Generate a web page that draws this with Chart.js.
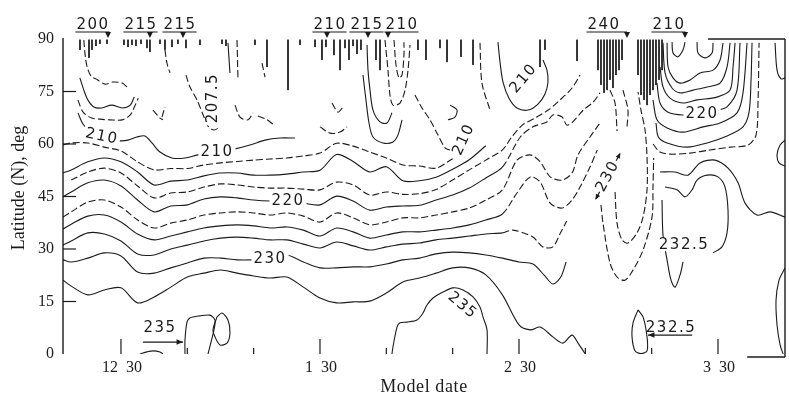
<!DOCTYPE html>
<html>
<head>
<meta charset="utf-8">
<script src="https://cdn.jsdelivr.net/npm/chart.js@4.4.1/dist/chart.umd.min.js"></script>
<style>
  html, body { margin: 0; padding: 0; background: #fff; }
  #wrap { width: 789px; height: 405px; position: relative; }
</style>
</head>
<body>
<div id="wrap"><canvas id="c"></canvas></div>
<script>
// Model date in days: 30 = "12 30", 60 = "1 30", 90 = "2 30", 120 = "3 30"
const dayMin = 21.26, dayMax = 130.1;
const latTicks = [0, 15, 30, 45, 60, 75, 90];
const dateTicks = [30, 40, 50, 60, 70, 80, 90, 100, 110, 120];
const dateLabels = { 30: '12  30', 60: '1  30', 90: '2  30', 120: '3  30' };

// Mid-latitude temperature contours (K), latitude read at common model days
const bandDays = [21.26,22.5,25,27.5,30,32.5,35,37.5,40,42.5,45,47.5,50,52.5,55,57.5,60,62.5,65,67.5,70,72.5,75,77.5,80,82.5,85,87.5,90];
const lat232_5 = [21.1,19.4,16.9,18.3,18.9,14.6,16.3,19.1,22.0,23.1,24.0,23.1,22.3,21.7,22.0,19.1,16.0,14.6,14.9,15.1,17.4,20.6,21.7,23.1,24.6,24.6,22.6,16.9,8.3];
const tail232_5 = [[91.7,6.9],[93.2,7.7],[95.1,4.9],[96.6,3.1],[98.0,5.4],[98.9,3.1],[100.0,0]];
const lat230 = [26.9,26.3,27.4,28.9,28.0,23.4,23.1,24.6,26.0,27.4,27.4,26.9,26.9,27.1,28.3,26.3,24.6,24.6,24.9,24.9,25.7,26.9,27.4,28.6,29.1,28.9,28.3,27.4,26.3];
const tail230 = [[92.1,25.7],[93.9,22.3],[95.1,20.0],[96.3,22.0],[97.1,26.3]];
const lat227_5 = [31.1,32.3,34.6,34.3,32.3,28.6,28.3,30.0,31.1,32.3,33.1,33.4,33.1,32.6,32.6,31.4,30.3,32.0,30.9,29.7,30.6,31.4,31.7,32.6,33.1,33.7,34.3,34.6];
const tail227_5 = [[89.1,35.4],[92.1,33.4],[93.6,30.6],[95.1,30.6],[96.2,34.4],[97.2,38.0]];
const lat225 = [35.7,37.1,39.4,39.7,37.7,34.3,32.6,33.7,34.9,36.0,36.6,36.9,36.6,36.0,36.3,35.4,33.7,36.0,34.9,33.1,34.0,34.9,34.9,35.4,36.0,36.9,38.3,40.0];
const tail225 = [[89.7,46.0],[91.7,50.6],[93.2,49.1],[94.7,43.1],[96.5,41.7],[98.0,44.0],[99.2,47.7],[100.7,53.4],[101.8,58.3]];
const lat222_5 = [39.1,40.6,43.4,44.0,42.0,38.3,36.0,37.4,38.3,39.7,40.3,40.6,40.3,39.7,40.3,39.4,37.7,40.3,38.9,36.9,37.7,38.9,38.9,39.7,40.6,41.7,44.0,46.9];
const tail222_5 = [[89.7,55.4],[91.7,56.9],[93.2,54.9],[94.7,50.6],[96.5,49.7],[98.0,51.7],[98.9,56.9],[100.7,62.0],[102.2,66.0]];
const lat220 = [44.9,46.3,48.9,49.7,48.0,44.0,40.6,42.3,42.6,44.3,44.9,44.6,44.0,43.7,43.7,43.1,42.6,45.1,43.7,41.1,42.0,42.3,42.5,44.0,45.4,47.4,50.3,53.4];
const tail220 = [[90.2,62.0],[92.1,64.9],[94.2,66.3],[95.1,68.3],[96.5,67.7],[97.2,65.4],[98.1,66.3],[99.7,69.7],[101.2,72.0],[102.2,74.6]];
const lat217_5 = [49.7,52.0,53.1,51.7,48.0,44.6,46.0,46.3,47.7,48.6,48.3,47.7,47.4,47.4,47.1,46.9,49.1,48.3,45.4,46.3,45.6,45.8,47.0,49.7,52.6,55.4,58.3];
const tail217_5 = [[88.9,62.0],[90.5,65.4],[92.4,67.4],[94.4,69.7],[96.2,72.6],[98.0,76.0],[99.2,79.7]];
const lat215 = [51.7,52.6,54.9,56.0,54.9,52.0,48.3,49.4,49.7,50.9,51.7,51.7,51.1,51.1,51.4,52.0,52.5,57.0,55.0,52.0,53.5,49.5,49.5,50.5,52.8,55.5,59.5];
const lat212_5 = [59.7,60.3,60.3,59.1,58.0,54.9,52.6,53.0,53.0,54.0,54.6,55.0,55.4,55.7,56.0,56.6,57.4,60.2,59.4,57.7,56.0,54.0,53.7,53.1,55.8];
const line210 = [[23.52,68.9],[24.27,65.7],[25.33,63.7],[26.83,62.3],[28.34,61.4],[29.85,60.9],[31.06,61.1],[32.41,62.0],[33.62,62.3],[34.67,60.3],[35.88,57.7],[37.69,56.0],[39.65,56.0],[41.61,56.9],[43.42,57.4],[45.23,58.0],[47.19,58.6],[49.45,59.7],[51.71,61.1],[53.97,61.7],[56.23,61.7]];

// Polar contours, [model day, latitude]
const polarA = [[24.4,89.7],[24.6,85.4],[24.9,82.0],[25.5,79.4],[26.5,78.3],[27.6,77.1],[28.8,77.7],[30.2,77.4],[30.9,76.3]];
const polarB = [[23.8,78.9],[24.4,75.4],[25.0,72.6],[25.9,70.6],[27.1,70.3],[28.6,71.1],[30.2,70.3],[31.4,71.1],[32.0,73.4]];
const polarC = [[23.5,72.6],[24.3,69.1],[25.6,67.4],[26.8,67.1],[28.3,66.9],[30.2,66.9],[31.4,68.3],[32.1,70.9],[32.6,73.1]];
const wisp1 = [[36.63,86.9],[36.93,83.1],[37.39,80.3]];
const wisp3 = [[36.18,67.7],[36.63,70.6]];
const wisp4 = [[34.82,69.7],[35.88,67.4],[36.33,66.9]];
const c207_5 = [[39.8,79.7],[40.4,76.3],[41.46,72.6],[42.51,67.7],[43.12,65.1],[44.02,64.0],[44.93,64.9]];
const wisp5 = [[46.13,88.9],[46.43,80.3]];
const wisp6 = [[47.49,89.7],[47.64,78.3]];
const cup1 = [[47.19,71.1],[47.94,67.7],[49.15,66.9],[49.9,68.9]];
const wisp7 = [[51.26,83.1],[51.71,79.1]];
const arc2 = [[50.65,68.0],[51.86,67.1],[52.91,65.7]];
const cup3 = [[61.81,71.7],[62.71,69.1],[63.47,70.6]];
const arc4 = [[60.0,64.9],[61.51,63.1],[63.02,63.4],[64.07,64.9]];
const mu1 = [[67.09,88.3],[67.24,81.1],[67.54,75.4],[67.99,69.7],[69.05,66.3],[70.1,66.0],[70.85,68.9]];
const mu2 = [[66.48,79.7],[66.93,72.6],[67.39,66.0],[67.99,62.0],[69.5,60.3],[71.0,60.6],[71.76,62.6],[72.36,66.9]];
const mu3 = [[69.8,89.7],[70.25,81.1],[70.55,74.0],[71.0,71.1],[72.06,71.7],[72.82,75.4],[73.27,81.1],[73.57,88.3]];
const mu4 = [[71.16,89.7],[71.46,82.6],[71.91,78.9],[72.36,79.7],[72.66,85.4],[72.66,89.1]];
const mu6 = [[74.32,74.0],[75.38,70.3],[76.58,66.9],[77.64,63.1],[78.85,58.9],[79.6,58.3]];
const hook = [[79.6,71.1],[80.65,69.7],[80.35,67.7],[79.3,66.9]];
const fanEdge = [[84.12,88.9],[84.42,77.4],[85.63,69.7]];
const ring210 = [[86.83,89.1],[87.14,83.4],[87.59,77.7],[88.49,73.1],[89.7,70.3],[91.36,69.7],[92.86,71.4],[93.92,74.3],[94.37,77.7],[94.22,81.1],[93.62,84.0]];
const fd4 = [[103.72,75.4],[104.48,71.7],[104.78,63.7]];
const fd5 = [[105.68,75.4],[106.43,69.7],[106.28,64.9]];
const v1 = [[102.36,42.6],[102.66,37.4],[103.72,26.0],[104.78,22.0],[105.98,21.1],[107.19,24.0],[108.7,29.7],[110.05,39.1],[110.2,47.7],[110.3,56.0]];
const v2 = [[104.48,46.3],[104.78,37.4],[105.53,32.6],[106.43,31.7],[107.79,34.6],[108.7,39.1],[109.3,46.9],[109.3,56.3],[109.0,64.0],[108.39,69.7],[107.94,74.9]];
const v3 = [[111.56,44.0],[111.71,34.0],[112.32,26.9],[112.92,21.1],[113.52,19.1],[114.28,22.6],[114.73,26.3]];
const u232_5 = [[112.02,47.7],[113.82,46.9],[115.03,44.9],[116.09,46.9],[116.84,49.7],[118.35,51.1],[120.0,50.6],[121.06,47.7],[121.51,41.1],[121.36,34.6],[120.6,30.6],[119.25,28.9]];
const rightLine = [[111.26,52.0],[113.52,52.0],[115.48,51.1],[117.29,54.6],[119.55,55.4],[121.51,53.1],[123.02,48.9],[124.08,43.1],[125.89,39.7],[127.85,40.6],[130.11,39.1]];
const u1 = [[112.32,88.9],[112.47,82.0],[113.22,78.9],[114.28,77.4],[115.79,78.3],[117.29,80.3],[119.25,81.1],[120.31,84.0],[120.76,88.9]];
const u2 = [[111.71,88.9],[112.02,80.3],[113.07,76.0],[114.28,74.6],[116.24,75.4],[118.35,76.3],[120.31,77.4],[121.36,82.0],[121.82,88.9]];
const u3 = [[111.26,82.0],[111.71,76.3],[112.77,73.1],[114.73,71.7],[116.84,72.6],[119.85,73.4],[121.82,75.4],[122.27,82.0],[122.57,88.9]];
const u4 = [[110.8,77.4],[111.26,71.7],[112.47,69.1],[114.73,68.3],[117.29,68.6],[119.85,69.7],[121.36,70.6],[122.87,75.4],[123.32,88.9]];
const u5 = [[110.2,72.6],[110.8,66.9],[112.32,64.6],[114.73,63.4],[117.74,64.9],[120.31,66.0],[122.87,68.9],[123.77,74.6],[124.38,88.9]];
const u6 = [[110.65,66.0],[111.0,62.0],[112.32,60.3],[115.33,59.1],[118.35,60.3],[121.36,62.3],[123.77,64.9],[124.68,69.1],[124.98,78.3],[125.13,88.9]];
const u7 = [[110.2,60.0],[111.26,57.7],[112.77,57.1],[115.79,57.4],[118.8,58.3],[121.82,59.1],[124.53,59.7],[125.74,62.6],[126.04,72.6],[126.19,88.9]];
const su1 = [[113.07,89.1],[113.22,86.0],[113.97,84.9],[114.73,86.9],[115.03,89.1]];
const su2 = [[116.84,89.1],[116.99,86.0],[118.05,84.6],[119.1,86.0],[119.25,88.9]];
const edgeTop = [[128.6,88.9],[128.9,81.1],[129.5,78.6],[130.1,78.9]];
const edgeBlob = [[130.11,61.1],[129.36,59.7],[128.9,56.9],[129.2,54.6],[130.11,53.7]];
const edgeLow = [[130.11,24.6],[129.2,21.1],[128.75,15.4],[128.9,8.3],[129.36,2.6],[129.81,0]];
const e232_5 = [[107.94,12.6],[107.19,8.9],[107.04,4.9],[107.49,0.9],[108.4,0.1],[109.3,0.9],[109.3,4.9],[108.7,10.6],[107.94,12.6]];
const hump235 = [[70.85,0],[71.0,2.0],[71.61,7.7],[72.06,8.9],[73.12,9.1],[74.62,9.7],[75.53,11.7],[76.13,14.0],[77.04,16.0],[78.54,17.7],[80.05,18.9],[81.56,18.3],[83.07,16.3],[84.12,13.4],[84.57,10.6],[85.18,6.9],[85.18,0]];
const loop235 = [[39.65,0],[39.65,4.0],[39.95,9.1],[40.4,10.3],[41.91,10.9],[43.42,11.1],[44.17,9.7],[44.02,6.9],[43.57,3.4],[43.12,0]];
const ring235 = [[44.47,10.6],[45.23,11.7],[46.13,9.7],[46.43,6.0],[45.98,3.1],[44.93,2.6],[44.17,4.9],[43.87,6.9],[44.47,10.6]];
const bump = [[32.86,0],[33.92,0.6],[34.82,0.9],[35.88,0.6],[36.33,0]];

// Short contour ends crowding against the pole: [model day, lowest latitude]
const poleStubs = [[23.82,86.9],[25.18,84.6],[25.63,86.9],[26.23,88.0],[26.83,88.6],[27.89,88.6],[30.45,88.3],[31.06,87.7],[31.66,88.3],[32.26,88.0],[33.02,88.6],[33.92,87.4],[34.37,86.3],[35.88,88.6],[36.63,86.9],[37.69,87.7],[38.59,88.6],[39.80,87.4],[41.91,88.3],[45.23,88.6],[45.83,88.0],[50.2,88.3],[52.01,82.0],[55.18,75.4],[56.99,88.3],[59.25,87.7],[60.3,84.0],[60.9,87.7],[62.11,85.4],[63.02,81.1],[63.77,87.4],[64.37,84.0],[64.98,88.0],[65.58,85.7],[66.18,86.9],[68.44,84.0],[69.05,81.1],[74.77,86.9],[75.98,84.0],[78.09,87.4],[79.15,83.4],[81.26,84.9],[83.07,82.6],[93.17,82.0],[93.92,86.9],[98.75,83.7],[101.91,81.1],[102.36,76.9],[102.82,74.6],[103.27,75.4],[103.72,78.3],[104.17,76.0],[104.62,79.7],[105.08,81.1],[105.53,84.0],[107.94,79.7],[108.39,74.0],[108.85,72.6],[109.3,71.1],[109.75,74.0],[110.2,75.4],[110.65,76.9],[111.11,78.3],[111.56,81.1]];

// Contour value labels
const levelLabels = [
  { text: '210', x: 27.14, y: 62.4, rot: 12 },
  { text: '210', x: 44.47, y: 58.0, rot: 0 },
  { text: '207.5', x: 43.72, y: 73.1, rot: -90 },
  { text: '220', x: 55.18, y: 43.9, rot: 0 },
  { text: '230', x: 52.46, y: 27.4, rot: 0 },
  { text: '210', x: 81.56, y: 61.4, rot: -65 },
  { text: '210', x: 90.6, y: 78.9, rot: -50 },
  { text: '230', x: 103.27, y: 50.9, rot: -62, arrows: true },
  { text: '220', x: 117.6, y: 68.9, rot: 0 },
  { text: '232.5', x: 114.88, y: 31.4, rot: 0 },
  { text: '235', x: 81.56, y: 14.0, rot: 40, plain: true }
];
const pointerLabels = [
  { text: '235', x: 35.88, y: 7.4, from: 33.3, to: 39.35, lineY: 3.4 },
  { text: '232.5', x: 112.92, y: 7.4, from: 116.1, to: 109.45, lineY: 5.4 }
];
const poleMarks = [
  { text: '200', at: 25.78, tip: 28.04 },
  { text: '215', at: 33.02, tip: 34.37 },
  { text: '215', at: 38.9, tip: 39.35 },
  { text: '210', at: 61.51, tip: 61.06 },
  { text: '215', at: 67.09, tip: 67.24 },
  { text: '210', at: 72.36, tip: 70.25 },
  { text: '240', at: 102.82, tip: 106.28 },
  { text: '210', at: 112.62, tip: 115.03 }
];

const INK = '#1b1b1b';
const DASH = [7, 3];
const SOLID = [];
const LABEL_FONT = '15px "DejaVu Sans", sans-serif';
const SERIF = '"Liberation Serif", "Times New Roman", serif';

const zipBand = (lats, start = 0) => lats.map((v, i) => ({ x: bandDays[start + i], y: v }));
const toPts = arr => arr.map(([x, y]) => ({ x, y }));

const contours = [
  { pts: zipBand(lat232_5).concat(toPts(tail232_5)), dash: SOLID },
  { pts: zipBand(lat230).concat(toPts(tail230)), dash: SOLID },
  { pts: zipBand(lat227_5).concat(toPts(tail227_5)), dash: SOLID, tailFrom: lat227_5.length },
  { pts: zipBand(lat225).concat(toPts(tail225)), dash: SOLID, tailFrom: lat225.length },
  { pts: zipBand(lat222_5).concat(toPts(tail222_5)), dash: DASH },
  { pts: zipBand(lat220).concat(toPts(tail220)), dash: SOLID, tailFrom: lat220.length },
  { pts: zipBand(lat217_5, 1).concat(toPts(tail217_5)), dash: DASH },
  { pts: zipBand(lat215), dash: SOLID },
  { pts: zipBand(lat212_5), dash: DASH },
  { pts: toPts(line210), dash: SOLID },
  { pts: toPts(polarA), dash: DASH },
  { pts: toPts(polarB), dash: SOLID },
  { pts: toPts(polarC), dash: DASH },
  { pts: toPts(wisp1), dash: DASH },
  { pts: toPts(wisp3), dash: DASH },
  { pts: toPts(wisp4), dash: DASH },
  { pts: toPts(c207_5), dash: DASH },
  { pts: toPts(wisp5), dash: SOLID },
  { pts: toPts(wisp6), dash: DASH },
  { pts: toPts(cup1), dash: DASH },
  { pts: toPts(wisp7), dash: DASH },
  { pts: toPts(arc2), dash: DASH },
  { pts: toPts(cup3), dash: DASH },
  { pts: toPts(arc4), dash: DASH },
  { pts: toPts(mu1), dash: SOLID },
  { pts: toPts(mu2), dash: SOLID },
  { pts: toPts(mu3), dash: DASH },
  { pts: toPts(mu4), dash: DASH },
  { pts: toPts(mu6), dash: DASH },
  { pts: toPts(hook), dash: SOLID },
  { pts: toPts(fanEdge), dash: DASH },
  { pts: toPts(ring210), dash: SOLID },
  { pts: toPts(fd4), dash: DASH },
  { pts: toPts(fd5), dash: DASH },
  { pts: toPts(v1), dash: DASH },
  { pts: toPts(v2), dash: DASH },
  { pts: toPts(v3), dash: SOLID },
  { pts: toPts(u232_5), dash: SOLID },
  { pts: toPts(rightLine), dash: SOLID },
  { pts: toPts(u1), dash: SOLID },
  { pts: toPts(u2), dash: SOLID },
  { pts: toPts(u3), dash: SOLID },
  { pts: toPts(u4), dash: SOLID },
  { pts: toPts(u5), dash: SOLID },
  { pts: toPts(u6), dash: SOLID },
  { pts: toPts(u7), dash: DASH },
  { pts: toPts(su1), dash: SOLID },
  { pts: toPts(su2), dash: SOLID },
  { pts: toPts(edgeTop), dash: SOLID },
  { pts: toPts(edgeBlob), dash: SOLID },
  { pts: toPts(edgeLow), dash: SOLID },
  { pts: toPts(e232_5), dash: SOLID },
  { pts: toPts(hump235), dash: SOLID },
  { pts: toPts(loop235), dash: SOLID },
  { pts: toPts(ring235), dash: SOLID },
  { pts: toPts(bump), dash: SOLID }
];

// pole stubs as one broken series
const stubPts = [];
poleStubs.forEach(([d, l]) => { stubPts.push({ x: d, y: 89.8 }, { x: d, y: l }, { x: d, y: null }); });

const datasets = contours.map(c => ({
  data: c.pts,
  showLine: true,
  borderColor: INK,
  borderWidth: 1.1,
  borderDash: c.dash,
  pointRadius: 0,
  tension: 0.3,
  fill: false,
  segment: c.tailFrom ? { borderDash: s => (s.p0DataIndex >= c.tailFrom - 1 ? DASH : undefined) } : undefined
}));
datasets.push({ data: stubPts, showLine: true, spanGaps: false, borderColor: INK, borderWidth: 1.0, pointRadius: 0, tension: 0 });

const decor = {
  id: 'decor',
  afterDatasetsDraw(chart) {
    const { ctx, chartArea: a, scales: { x, y } } = chart;
    const X = v => x.getPixelForValue(v), Y = v => y.getPixelForValue(v);
    const seg = (x1, y1, x2, y2) => { ctx.beginPath(); ctx.moveTo(x1, y1); ctx.lineTo(x2, y2); ctx.stroke(); };
    const head = (x1, y1, x2, y2, s) => {
      const g = Math.atan2(y2 - y1, x2 - x1);
      ctx.beginPath();
      ctx.moveTo(x2, y2);
      ctx.lineTo(x2 - s * Math.cos(g - 0.4), y2 - s * Math.sin(g - 0.4));
      ctx.lineTo(x2 - s * Math.cos(g + 0.4), y2 - s * Math.sin(g + 0.4));
      ctx.closePath();
      ctx.fill();
    };
    ctx.save();
    ctx.strokeStyle = INK; ctx.fillStyle = INK; ctx.lineWidth = 1.2;

    // contour value labels
    ctx.font = LABEL_FONT; ctx.letterSpacing = '1.5px';
    ctx.textAlign = 'center'; ctx.textBaseline = 'middle';
    levelLabels.forEach(l => {
      ctx.save();
      ctx.translate(X(l.x), Y(l.y));
      ctx.rotate(l.rot * Math.PI / 180);
      const w = ctx.measureText(l.text).width;
      if (!l.plain) { ctx.fillStyle = '#fff'; ctx.fillRect(-w / 2 - 2, -7, w + 4, 14); ctx.fillStyle = INK; }
      ctx.fillText(l.text, 0, 1);
      if (l.arrows) {
        seg(-w / 2 - 1, 1, -w / 2 - 9, 1); head(-w / 2 - 1, 1, -w / 2 - 10, 1, 6);
        seg(w / 2 + 1, 1, w / 2 + 9, 1); head(w / 2 + 1, 1, w / 2 + 10, 1, 6);
      }
      ctx.restore();
    });

    // underlined labels pointing at small closed contours
    pointerLabels.forEach(p => {
      ctx.fillText(p.text, X(p.x), Y(p.y));
      const ly = Y(p.lineY);
      seg(X(p.from), ly, X(p.to), ly);
      head(X(p.from), ly, X(p.to), ly, 7);
    });

    // values marked along the pole
    ctx.textBaseline = 'alphabetic';
    poleMarks.forEach(m => {
      const cx = X(m.at), tx = X(m.tip);
      const w = ctx.measureText(m.text).width;
      ctx.fillText(m.text, cx, a.top - 10);
      const ly = a.top - 7;
      seg(Math.min(cx - w / 2 - 1, tx), ly, Math.max(cx + w / 2, tx), ly);
      ctx.beginPath(); ctx.moveTo(tx - 3, ly); ctx.lineTo(tx + 3, ly); ctx.lineTo(tx, a.top - 1); ctx.closePath(); ctx.fill();
    });
    ctx.letterSpacing = '0px';

    // frame
    ctx.lineWidth = 1.4;
    seg(a.left, Y(90) - 1, a.left, Y(0));
    seg(X(118.5), a.top, a.right, a.top);
    seg(a.right, a.top, a.right, a.bottom + 3);
    seg(X(124.4), a.bottom + 3, a.right, a.bottom + 3);

    // latitude ticks and labels
    ctx.lineWidth = 1.2;
    latTicks.forEach(v => { if (v > 0 && v < 90) seg(a.left, Y(v), a.left + 13, Y(v)); });
    ctx.font = '16px ' + SERIF;
    ctx.textAlign = 'right'; ctx.textBaseline = 'middle';
    latTicks.forEach(v => ctx.fillText(String(v), a.left - 9, Y(v)));

    // model date ticks and labels
    dateTicks.forEach(d => { const long = d in dateLabels; seg(X(d), a.bottom, X(d), a.bottom - (long ? 15 : 6)); });
    ctx.textAlign = 'center'; ctx.textBaseline = 'alphabetic';
    Object.keys(dateLabels).forEach(k => ctx.fillText(dateLabels[k], X(+k) + 1, a.bottom + 18));

    // axis titles
    ctx.font = '18px ' + SERIF;
    ctx.letterSpacing = '0.6px';
    ctx.fillText('Model date', (a.left + a.right) / 2, a.bottom + 38);
    ctx.letterSpacing = '0px';
    ctx.translate(19, 188);
    ctx.rotate(-Math.PI / 2);
    ctx.textBaseline = 'middle';
    ctx.fillText('Latitude (N), deg', 0, 0);
    ctx.restore();
  }
};

new Chart(document.getElementById('c'), {
  type: 'scatter',
  data: { datasets },
  options: {
    responsive: true,
    maintainAspectRatio: false,
    animation: false,
    devicePixelRatio: 1,
    events: [],
    layout: { padding: { left: 63, right: 4, top: 39, bottom: 51 } },
    scales: {
      x: { type: 'linear', min: dayMin, max: dayMax, display: false },
      y: { type: 'linear', min: 0, max: 90, display: false }
    },
    plugins: { legend: { display: false }, tooltip: { enabled: false } },
    elements: { point: { radius: 0 } }
  },
  plugins: [decor]
});
</script>
</body>
</html>
